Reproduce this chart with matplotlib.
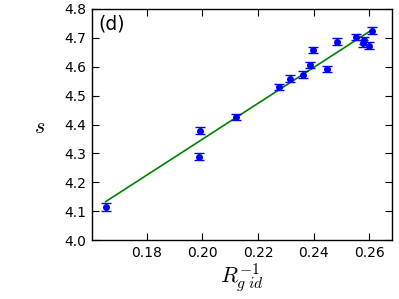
import matplotlib
matplotlib.use("Agg")
import matplotlib.pyplot as plt
import numpy as np

plt.rcParams['mathtext.fontset'] = 'cm'
plt.rcParams['font.family'] = ['DejaVu Sans']

x_vals = [0.1651, 0.1986, 0.1992, 0.2120, 0.2277, 0.2314, 0.2361, 0.2389,
          0.2399, 0.2447, 0.2485, 0.2554, 0.2577, 0.2582, 0.2600, 0.2611]
s_vals = [4.114, 4.289, 4.379, 4.426, 4.530, 4.558, 4.573, 4.606,
          4.658, 4.592, 4.687, 4.702, 4.681, 4.691, 4.673, 4.725]
s_err = [0.015, 0.011, 0.011, 0.011, 0.011, 0.012, 0.011, 0.011,
         0.011, 0.011, 0.011, 0.011, 0.011, 0.011, 0.011, 0.011]
fit_slope = 6.198
fit_intercept = 3.1097
x_ticks = [0.18, 0.20, 0.22, 0.24, 0.26]
y_ticks = [4.0, 4.1, 4.2, 4.3, 4.4, 4.5, 4.6, 4.7, 4.8]

fig = plt.figure(figsize=(3.99, 2.99), dpi=100)
ax = fig.add_axes([0.2306, 0.197, 0.752, 0.773])

xa = np.array(x_vals)
line_x = np.array([xa.min(), xa.max()])
ax.plot(line_x, fit_intercept + fit_slope * line_x, color='green', lw=1.2, zorder=1)
ax.errorbar(x_vals, s_vals, yerr=s_err, fmt='o', color='blue', ms=4,
            mec='blue', elinewidth=1, capsize=3.6, capthick=1, zorder=2)

ax.set_xlim(0.1602, 0.2683)
ax.set_ylim(4.0, 4.8)
ax.set_xticks(x_ticks)
ax.set_xticklabels([f"{t:.2f}" for t in x_ticks])
ax.set_yticks(y_ticks)
ax.set_yticklabels([f"{t:.1f}" for t in y_ticks])
ax.tick_params(direction='in', top=True, right=True, length=5, width=0.8,
               labelsize=10, pad=4)
for sp in ax.spines.values():
    sp.set_linewidth(1.0)

ax.text(0.02, 0.975, '(d)', transform=ax.transAxes, fontsize=13.5,
        ha='left', va='top')
ax.set_ylabel('$s$', fontsize=16, rotation=0, va='center')
ax.yaxis.set_label_coords(-0.175, 0.49)
ax.set_xlabel('$R_{g\\;id}^{-1}$', fontsize=16, labelpad=1)

fig.savefig('out.png', dpi=100)
